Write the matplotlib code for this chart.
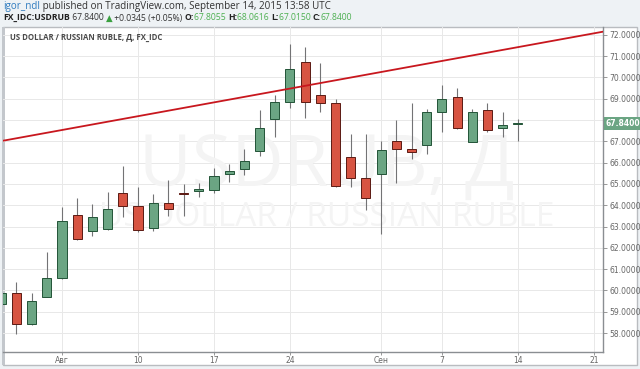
import numpy as np
import matplotlib.pyplot as plt
import matplotlib.patches as mpatches

# daily bars, weekdays only (Jul 28 .. Sep 14, 2015)
dates = ['07-28', '07-29', '07-30', '07-31', '08-03', '08-04', '08-05', '08-06', '08-07',
         '08-10', '08-11', '08-12', '08-13', '08-14', '08-17', '08-18', '08-19', '08-20',
         '08-21', '08-24', '08-25', '08-26', '08-27', '08-28', '08-31', '09-01', '09-02',
         '09-03', '09-04', '09-07', '09-08', '09-09', '09-10', '09-11', '09-14']
opens = [59.35, 59.86, 58.44, 59.70, 60.58, 63.53, 62.80, 62.88, 64.56,
         63.96, 62.94, 64.12, 64.58, 64.65, 64.73, 65.46, 65.72, 66.56,
         68.04, 68.84, 70.71, 69.17, 68.82, 66.28, 65.27, 65.49, 67.01,
         66.62, 66.83, 68.37, 69.06, 66.97, 68.47, 67.62, 67.8055]
highs = [60.00, 60.40, 59.90, 61.80, 63.93, 64.35, 64.04, 64.63, 65.84,
         64.85, 64.51, 65.20, 64.98, 65.03, 65.76, 65.93, 66.66, 68.47,
         69.17, 71.56, 71.45, 70.67, 69.00, 67.33, 67.33, 67.00, 68.00,
         68.80, 68.50, 69.66, 69.51, 68.50, 68.82, 68.40, 68.0616]
lows = [59.20, 57.95, 58.40, 59.68, 60.55, 62.38, 62.55, 62.85, 63.46,
        62.76, 62.79, 63.50, 63.51, 64.40, 64.56, 65.08, 65.40, 66.31,
        67.20, 68.59, 68.08, 68.36, 64.88, 64.87, 63.77, 62.65, 65.03,
        66.18, 66.40, 67.46, 67.60, 66.95, 67.46, 67.19, 67.0150]
closes = [59.90, 58.44, 59.50, 60.60, 63.26, 62.40, 63.43, 63.81, 63.96,
          62.82, 64.12, 63.81, 64.54, 64.77, 65.38, 65.60, 66.10, 67.61,
          68.85, 70.42, 68.85, 68.79, 64.89, 65.27, 64.33, 66.60, 66.62,
          66.50, 68.37, 68.98, 67.61, 68.40, 67.55, 67.77, 67.84]

# trend line anchors (bar index, price)
trend_x = [0.12, 39.6]
trend_y = [67.03, 72.15]

tick_pos = [4, 9, 14, 19, 25, 29, 34, 39]
tick_lab = ['Авг', '10', '17', '24', 'Сен', '7', '14', '21']
price_ticks = np.arange(58, 73, 1)

up_col = '#6ba583'
up_edge = '#225437'
dn_col = '#d75442'
dn_edge = '#5b1a13'
wick_col = '#737375'
bg = '#eef2f5'

fig = plt.figure(figsize=(6.4, 3.69), dpi=100, facecolor=bg)

# white chart panel with grey frame
panel = mpatches.Rectangle((3 / 640, 1 - 365 / 369), 634 / 640, 338 / 369,
                           transform=fig.transFigure, facecolor='white',
                           edgecolor='#b9bcc0', linewidth=1.0, zorder=-10)
fig.patches.append(panel)
fig.patches.append(mpatches.Rectangle((2 / 640, 1 - 365 / 369), 2.5 / 640, 338 / 369,
                                      transform=fig.transFigure, facecolor='#c3c7cc',
                                      edgecolor='none', zorder=-9))

ax = fig.add_axes([3 / 640, 1 - 352 / 369, 600 / 640, 325 / 369])
ax.set_zorder(1)
ax.patch.set_visible(False)

x = np.arange(len(opens))
o = np.array(opens)
c = np.array(closes)
up = c >= o
body_lo = np.minimum(o, c)
body_h = np.maximum(np.abs(c - o), 0.04)

ax.vlines(x, lows, highs, color=wick_col, linewidth=0.8, zorder=3)
ax.bar(x[up], body_h[up], bottom=body_lo[up], width=0.6, color=up_col,
       edgecolor=up_edge, linewidth=0.7, zorder=4)
ax.bar(x[~up], body_h[~up], bottom=body_lo[~up], width=0.6, color=dn_col,
       edgecolor=dn_edge, linewidth=0.7, zorder=4)

ax.plot(trend_x, trend_y, color='#c8171e', linewidth=1.3, zorder=5)

ax.set_xlim(0.12, 39.6)
ax.set_ylim(57.11, 72.37)

ax.set_xticks(tick_pos)
ax.set_xticklabels(tick_lab)
ax.set_yticks(price_ticks)
ax.set_yticklabels(['%.4f' % v for v in price_ticks])
ax.yaxis.tick_right()
ax.tick_params(axis='both', labelsize=5.5, colors='#888888', labelcolor='#666666',
               length=3, width=0.6, pad=1.5)
ax.tick_params(axis='x', pad=1.0, length=2)
ax.grid(True, color='#e8e8e8', linewidth=0.7, zorder=0)
ax.set_axisbelow(True)

for side in ['top', 'left']:
    ax.spines[side].set_visible(False)
for side in ['right', 'bottom']:
    ax.spines[side].set_color('#8a8e92')
    ax.spines[side].set_linewidth(1.0)

# watermark
ax.text(0.54, 0.565, 'USDRUB, Д', transform=ax.transAxes, ha='center', va='center',
        fontsize=52, color='#f4f4f4', family='Open Sans', zorder=1)
ax.text(0.54, 0.415, 'US DOLLAR / RUSSIAN RUBLE', transform=ax.transAxes,
        ha='center', va='center', fontsize=24, color='#f4f4f4', family='Open Sans',
        zorder=1)

# chart title
ax.text(0.012, 0.98, 'US DOLLAR / RUSSIAN RUBLE, Д, FX_IDC', transform=ax.transAxes,
        ha='left', va='top', fontsize=5.6, color='#4a4a4a', fontweight='bold',
        family='Open Sans', zorder=6)

# last price label (covers the 68.0000 tick label like the original)
ax.annotate('%.4f' % closes[-1], xy=(1.0, closes[-1]), xycoords=('axes fraction', 'data'),
            xytext=(2, 0), textcoords='offset points', ha='left', va='center',
            fontsize=5.5, color='white', fontweight='bold', annotation_clip=False,
            zorder=10,
            bbox=dict(boxstyle='square,pad=0.25', facecolor=up_col, edgecolor='none'))
ax.yaxis.get_major_ticks()[10].label2.set_visible(False)

# header lines, laid out piece by piece
fig.canvas.draw()
renderer = fig.canvas.get_renderer()


def text_run(parts, ypix, size):
    xpos = 3 / 640
    for txt, col, wt in parts:
        t = fig.text(xpos, 1 - ypix / 369, txt, color=col, fontsize=size, fontweight=wt,
                     family=['Open Sans', 'DejaVu Sans'], va='center', ha='left')
        bb = t.get_window_extent(renderer=renderer)
        xpos += bb.width / fig.bbox.width


line1 = [('igor_ndl', '#2f7bbf', 'normal'),
         (' published on TradingView.com, September 14, 2015 13:58 UTC', '#333333', 'normal')]
line2 = [('FX_IDC:USDRUB', '#222222', 'bold'), (' 67.8400 ', '#333333', 'normal'),
         ('▲', '#3aa040', 'normal'), (' +0.0345 (+0.05%) ', '#333333', 'normal'),
         ('O:', '#222222', 'bold'), ('67.8055 ', '#4caf50', 'normal'),
         ('H:', '#222222', 'bold'), ('68.0616 ', '#4caf50', 'normal'),
         ('L:', '#222222', 'bold'), ('67.0150 ', '#4caf50', 'normal'),
         ('C:', '#222222', 'bold'), ('67.8400', '#4caf50', 'normal')]
text_run(line1, 6, 7.1)
text_run(line2, 18, 6.2)

fig.savefig('out.png', dpi=100, facecolor=bg)
